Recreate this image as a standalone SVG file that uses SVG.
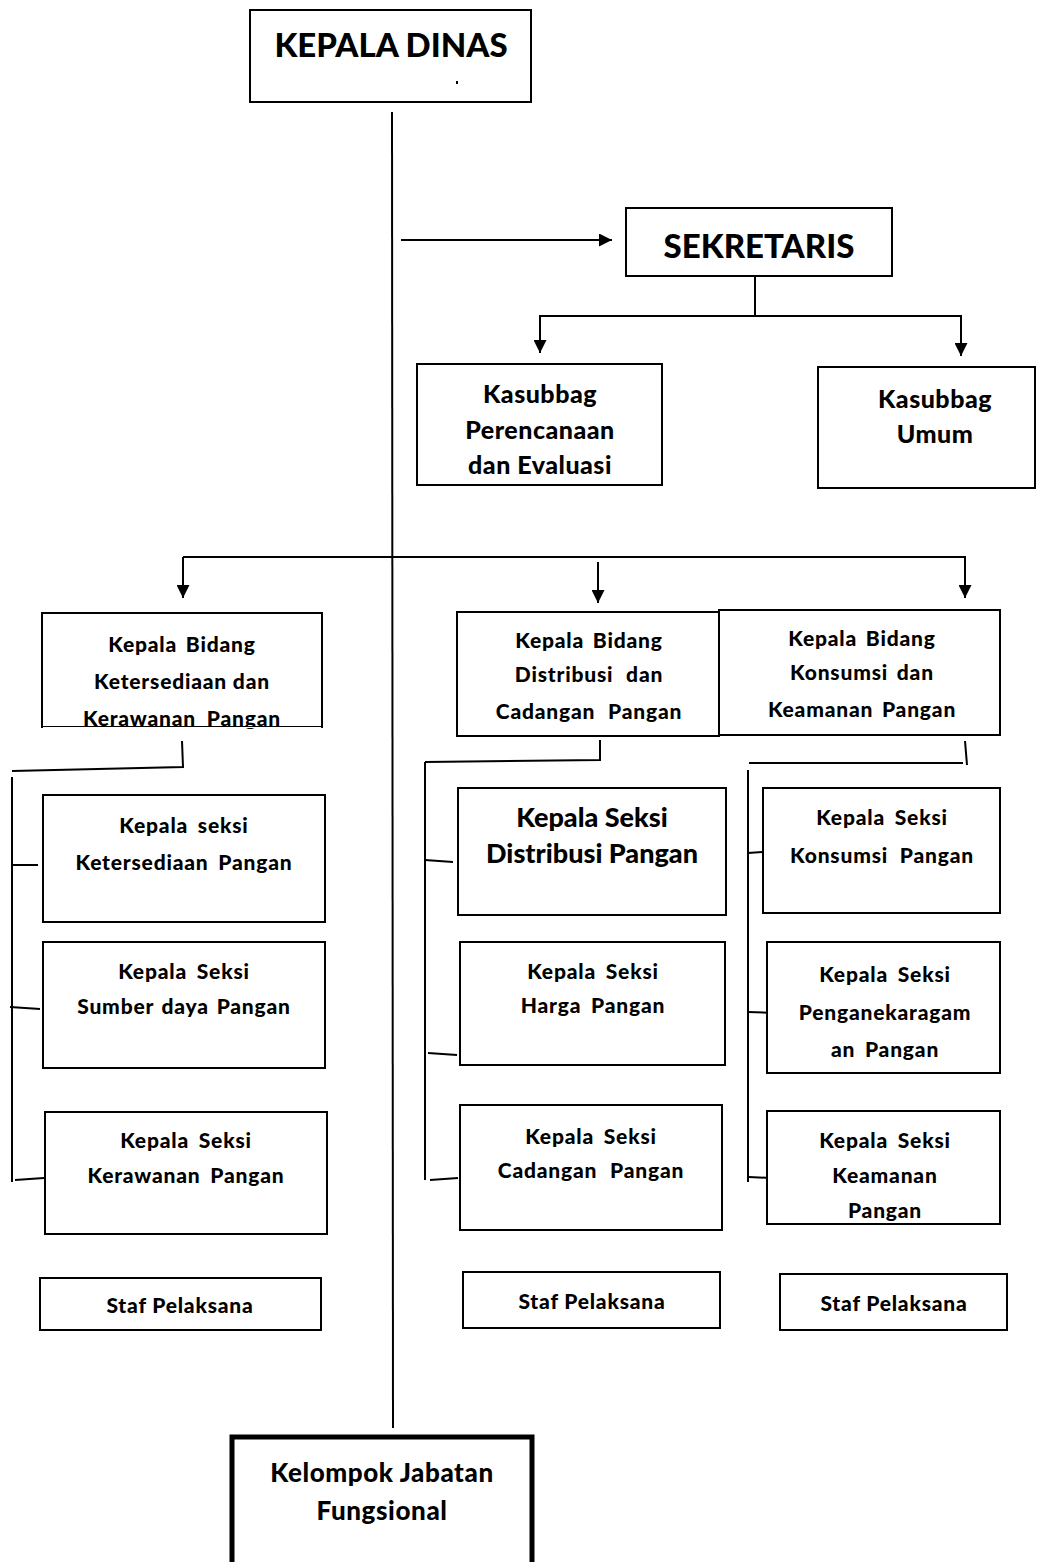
<svg xmlns="http://www.w3.org/2000/svg" width="1049" height="1562" viewBox="0 0 1049 1562">
<defs>
<style>
.box{fill:#fff;stroke:#000;stroke-width:2}
.thick{fill:#fff;stroke:#000;stroke-width:5}
.ln{fill:none;stroke:#000;stroke-width:2}
text{font-family:Lato,"Open Sans","Liberation Sans",sans-serif;font-weight:900;fill:#000;text-anchor:middle}
.t30{font-size:33px}
.t24{font-size:25px;letter-spacing:0.5px}
.t20{font-size:21px;letter-spacing:0.8px}
.t25{font-size:27px}
.t18{font-size:21px;letter-spacing:0.8px}
.t26{font-size:26px;letter-spacing:0.6px}
</style>
<marker id="ah" viewBox="0 0 10 10" refX="10" refY="5" markerWidth="6.5" markerHeight="6.5" orient="auto" markerUnits="strokeWidth">
<path d="M0,0 L10,5 L0,10 Z" fill="#000"/>
</marker>
</defs>
<rect width="1049" height="1562" fill="#fff"/>

<g id="connectors">
<line class="ln" x1="392" y1="112" x2="393" y2="1428"/>
<line class="ln" x1="401" y1="240" x2="612" y2="240" marker-end="url(#ah)"/>
<line class="ln" x1="755" y1="277" x2="755" y2="316"/>
<line class="ln" x1="539" y1="316" x2="962" y2="316"/>
<line class="ln" x1="540" y1="316" x2="540" y2="353" marker-end="url(#ah)"/>
<line class="ln" x1="961" y1="316" x2="961" y2="356" marker-end="url(#ah)"/>
<line class="ln" x1="183" y1="557" x2="966" y2="557"/>
<line class="ln" x1="183" y1="557" x2="183" y2="598" marker-end="url(#ah)"/>
<line class="ln" x1="598" y1="562" x2="598" y2="603" marker-end="url(#ah)"/>
<line class="ln" x1="965" y1="557" x2="965" y2="598" marker-end="url(#ah)"/>
<polyline class="ln" points="182,741 183,767 12,771"/>
<line class="ln" x1="12" y1="777" x2="12" y2="1182"/>
<line class="ln" x1="13" y1="865" x2="38" y2="865"/>
<line class="ln" x1="10" y1="1007" x2="40" y2="1009"/>
<line class="ln" x1="15" y1="1180" x2="44" y2="1178"/>
<polyline class="ln" points="600,740 600,760 425,762"/>
<line class="ln" x1="425" y1="762" x2="425" y2="1180"/>
<line class="ln" x1="425" y1="860" x2="453" y2="862"/>
<line class="ln" x1="428" y1="1053" x2="457" y2="1055"/>
<line class="ln" x1="430" y1="1180" x2="458" y2="1178"/>
<line class="ln" x1="965" y1="741" x2="967" y2="765"/>
<line class="ln" x1="749" y1="763" x2="963" y2="763"/>
<line class="ln" x1="748" y1="770" x2="748" y2="1182"/>
<line class="ln" x1="748" y1="853" x2="762" y2="852"/>
<line class="ln" x1="748" y1="1012" x2="775" y2="1013"/>
<line class="ln" x1="749" y1="1177" x2="770" y2="1178"/>
</g>

<g id="kepala-dinas">
<rect class="box" x="250" y="10" width="281" height="92"/>
<text class="t30" x="391" y="57">KEPALA DINAS</text>
<rect x="456" y="81" width="2" height="3" fill="#000"/>
</g>

<g id="sekretaris">
<rect class="box" x="626" y="208" width="266" height="68"/>
<text class="t30" x="759" y="258" font-size="32">SEKRETARIS</text>
</g>

<g id="kasubbag-perencanaan">
<rect class="box" x="417" y="364" width="245" height="121"/>
<text class="t24" x="540" y="403">Kasubbag</text>
<text class="t24" x="540" y="439">Perencanaan</text>
<text class="t24" x="540" y="474">dan Evaluasi</text>
</g>

<g id="kasubbag-umum">
<rect class="box" x="818" y="367" width="217" height="121"/>
<text class="t24" x="935" y="408">Kasubbag</text>
<text class="t24" x="935" y="443">Umum</text>
</g>

<g id="bidang-ketersediaan">
<rect class="box" x="42" y="613" width="280" height="114"/>
<text class="t20" x="182" y="652" word-spacing="3">Kepala Bidang</text>
<text class="t20" x="182" y="689">Ketersediaan dan</text>
<text class="t20" x="182" y="726" word-spacing="5">Kerawanan Pangan</text>
<rect x="43" y="727" width="278" height="1" fill="#fff"/>
</g>

<g id="bidang-distribusi">
<rect class="box" x="457" y="612" width="262" height="124"/>
<text class="t20" x="589" y="648" word-spacing="3">Kepala Bidang</text>
<text class="t20" x="589" y="682" word-spacing="7">Distribusi dan</text>
<text class="t20" x="589" y="719" word-spacing="7">Cadangan Pangan</text>
</g>

<g id="bidang-konsumsi">
<rect class="box" x="719" y="610" width="281" height="125"/>
<text class="t20" x="862" y="646" word-spacing="3">Kepala Bidang</text>
<text class="t20" x="862" y="680" word-spacing="3">Konsumsi dan</text>
<text class="t20" x="862" y="717" word-spacing="3">Keamanan Pangan</text>
</g>

<g id="seksi-ketersediaan">
<rect class="box" x="43" y="795" width="282" height="127"/>
<text class="t20" x="184" y="833" word-spacing="4">Kepala seksi</text>
<text class="t20" x="184" y="870" word-spacing="4">Ketersediaan Pangan</text>
</g>

<g id="seksi-sumberdaya">
<rect class="box" x="43" y="942" width="282" height="126"/>
<text class="t20" x="184" y="979" word-spacing="4">Kepala Seksi</text>
<text class="t20" x="184" y="1014" word-spacing="2">Sumber daya Pangan</text>
</g>

<g id="seksi-kerawanan">
<rect class="box" x="45" y="1112" width="282" height="122"/>
<text class="t20" x="186" y="1148" word-spacing="4">Kepala Seksi</text>
<text class="t20" x="186" y="1183" word-spacing="4">Kerawanan Pangan</text>
</g>

<g id="staf-1">
<rect class="box" x="40" y="1278" width="281" height="52"/>
<text class="t18" x="180" y="1313">Staf Pelaksana</text>
</g>

<g id="seksi-distribusi">
<rect class="box" x="458" y="788" width="268" height="127"/>
<text class="t25" x="592" y="827">Kepala Seksi</text>
<text class="t25" x="592" y="863">Distribusi Pangan</text>
</g>

<g id="seksi-harga">
<rect class="box" x="460" y="942" width="265" height="123"/>
<text class="t20" x="593" y="979" word-spacing="4">Kepala Seksi</text>
<text class="t20" x="593" y="1013" word-spacing="4">Harga Pangan</text>
</g>

<g id="seksi-cadangan">
<rect class="box" x="460" y="1105" width="262" height="125"/>
<text class="t20" x="591" y="1144" word-spacing="4">Kepala Seksi</text>
<text class="t20" x="591" y="1178" word-spacing="7">Cadangan Pangan</text>
</g>

<g id="staf-2">
<rect class="box" x="463" y="1272" width="257" height="56"/>
<text class="t18" x="592" y="1309">Staf Pelaksana</text>
</g>

<g id="seksi-konsumsi">
<rect class="box" x="763" y="788" width="237" height="125"/>
<text class="t20" x="882" y="825" word-spacing="4">Kepala Seksi</text>
<text class="t20" x="882" y="863" word-spacing="6">Konsumsi Pangan</text>
</g>

<g id="seksi-penganekaragaman">
<rect class="box" x="767" y="942" width="233" height="131"/>
<text class="t20" x="885" y="982" word-spacing="4">Kepala Seksi</text>
<text class="t20" x="885" y="1020">Penganekaragam</text>
<text class="t20" x="885" y="1057" word-spacing="4">an Pangan</text>
</g>

<g id="seksi-keamanan">
<rect class="box" x="767" y="1111" width="233" height="113"/>
<text class="t20" x="885" y="1148" word-spacing="4">Kepala Seksi</text>
<text class="t20" x="885" y="1183">Keamanan</text>
<text class="t20" x="885" y="1218">Pangan</text>
<rect x="768" y="1222" width="231" height="1" fill="#fff"/>
</g>

<g id="staf-3">
<rect class="box" x="780" y="1274" width="227" height="56"/>
<text class="t18" x="894" y="1311">Staf Pelaksana</text>
</g>

<g id="kelompok-jabatan">
<rect class="thick" x="232" y="1437" width="300" height="140"/>
<text class="t26" x="382" y="1482">Kelompok Jabatan</text>
<text class="t26" x="382" y="1520">Fungsional</text>
</g>
</svg>
